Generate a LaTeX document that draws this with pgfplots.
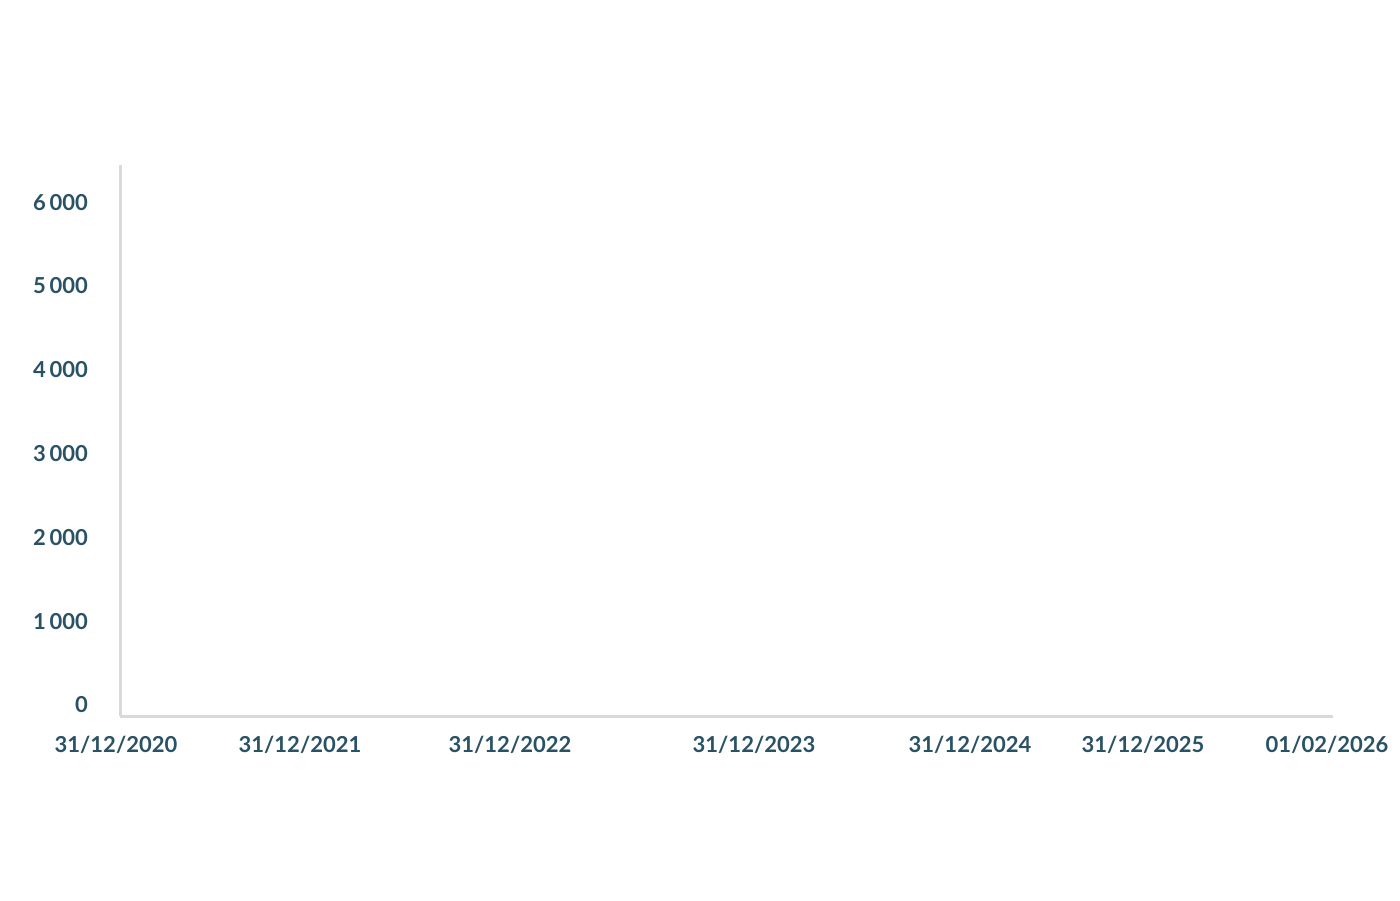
\documentclass[border=0pt]{standalone}
\usepackage{fontspec}
\setmainfont{Lato}[BoldFont={Lato Bold}]
\usepackage{pgfplots}
\pgfplotsset{compat=1.18}
\definecolor{labelteal}{HTML}{2A5265}
\definecolor{axisgray}{HTML}{D9D9D9}
\begin{document}
\begin{tikzpicture}
% page frame: 1400 x 900 px, 1 px = 0.5 pt
\path (0pt,0pt) rectangle (700pt,450pt);
\begin{axis}[
  at={(60pt,92pt)}, anchor=south west,
  scale only axis,
  width=606.5pt, height=275.5pt,
  xmin=120, xmax=1333,
  ymin=-131, ymax=6444,
  axis lines=left,
  axis line style={line width=1.5pt, color=axisgray, -},
  major tick length=0pt,
  xtick={300,510,754,970,1143,1327},
  xticklabels={31/12/2021,31/12/2022,31/12/2023,31/12/2024,31/12/2025,01/02/2026},
  extra x ticks={120},
  extra x tick labels={31/12/2020},
  extra x tick style={xticklabel style={xshift=-2pt}},
  ytick={0,1000,...,6000},
  tick label style={font=\fontsize{11}{13}\selectfont\bfseries, text=labelteal},
  xticklabel style={yshift=-6.5pt},
  yticklabel style={xshift=-12.5pt},
  /pgf/number format/assume math mode=true,
  /pgf/number format/1000 sep={\,},
  clip=false,
]
\end{axis}
\end{tikzpicture}
\end{document}
